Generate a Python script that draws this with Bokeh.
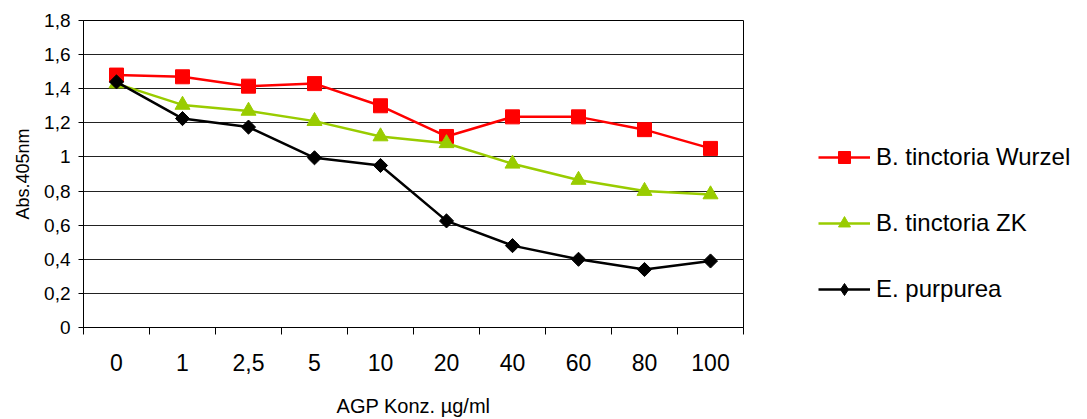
import math
from bokeh.plotting import figure
from bokeh.layouts import row
from bokeh.models import FixedTicker, CustomJSTickFormatter, Legend, LegendItem, ColumnDataSource, Range1d
from bokeh.embed import file_html
from bokeh.resources import INLINE

categories = ["0", "1", "2,5", "5", "10", "20", "40", "60", "80", "100"]
wurzel = [1.48, 1.47, 1.415, 1.43, 1.30, 1.12, 1.235, 1.235, 1.16, 1.05]
zk = [1.43, 1.305, 1.27, 1.21, 1.12, 1.08, 0.96, 0.865, 0.80, 0.78]
purpurea = [1.44, 1.225, 1.175, 0.995, 0.95, 0.625, 0.48, 0.40, 0.34, 0.39]
series_names = ["B. tinctoria Wurzel", "B. tinctoria ZK", "E. purpurea"]
y_ticks = [0, 0.2, 0.4, 0.6, 0.8, 1.0, 1.2, 1.4, 1.6, 1.8]

FONT = "Liberation Sans"
H = 419
n = len(categories)
xs = [i + 0.5 for i in range(n)]

styles = [
    dict(col="w", color="#FF0000", marker="square", size=14, angle=0, lmarker="square", lsize=14),
    dict(col="z", color="#99CC00", marker="triangle", size=15, angle=0, lmarker="triangle", lsize=15),
    dict(col="e", color="black", marker="square", size=10, angle=math.pi / 4, lmarker="diamond", lsize=15),
]

src = ColumnDataSource(dict(x=xs, w=wurzel, z=zk, e=purpurea))

p = figure(width=745, height=H, output_backend="svg", toolbar_location=None,
           x_range=Range1d(0, n), y_range=Range1d(0, 1.8),
           min_border_left=83, min_border_right=2, min_border_top=20, min_border_bottom=90)
p.background_fill_color = "white"
p.outline_line_color = "black"
p.outline_line_width = 1

for s in styles:
    p.line("x", s["col"], source=src, line_color=s["color"], line_width=2.5)
    p.scatter("x", s["col"], source=src, marker=s["marker"], size=s["size"], angle=s["angle"],
              fill_color=s["color"], line_color=s["color"])

# axes
p.xaxis.ticker = FixedTicker(ticks=xs, minor_ticks=list(range(n + 1)))
p.xaxis.major_label_overrides = {x: c for x, c in zip(xs, categories)}
p.xaxis.major_tick_line_color = None
p.xaxis.minor_tick_line_color = "black"
p.xaxis.minor_tick_out = 7
p.xaxis.minor_tick_in = 0
p.xaxis.axis_line_color = "black"
p.xaxis.major_label_text_font = FONT
p.xaxis.major_label_text_font_size = "23px"
p.xaxis.major_label_text_color = "black"
p.xaxis.major_label_standoff = 19
p.xaxis.axis_label = "AGP Konz. µg/ml"
p.xaxis.axis_label_text_font = FONT
p.xaxis.axis_label_text_font_size = "20px"
p.xaxis.axis_label_text_font_style = "normal"
p.xaxis.axis_label_text_color = "black"
p.xaxis.axis_label_standoff = 21

p.yaxis.ticker = FixedTicker(ticks=y_ticks, minor_ticks=[])
p.yaxis.formatter = CustomJSTickFormatter(code="return tick.toFixed(1).replace('.', ',').replace(/,0$/, '');")
p.yaxis.major_tick_out = 5
p.yaxis.major_tick_in = 0
p.yaxis.major_tick_line_color = "black"
p.yaxis.axis_line_color = "black"
p.yaxis.major_label_text_font = FONT
p.yaxis.major_label_text_font_size = "19px"
p.yaxis.major_label_text_color = "black"
p.yaxis.major_label_standoff = 8
p.yaxis.axis_label = "Abs.405nm"
p.yaxis.axis_label_text_font = FONT
p.yaxis.axis_label_text_font_size = "18px"
p.yaxis.axis_label_text_font_style = "normal"
p.yaxis.axis_label_text_color = "black"
p.yaxis.axis_label_standoff = 8

p.xgrid.grid_line_color = None
p.ygrid.ticker = FixedTicker(ticks=y_ticks)
p.ygrid.grid_line_color = "#222222"
p.ygrid.grid_line_width = 1

# legend panel (separate figure, glyph renderers out of view, only legend shown)
lf = figure(width=335, height=H, output_backend="svg", toolbar_location=None,
            x_range=Range1d(100, 101), y_range=Range1d(100, 101),
            min_border_left=0, min_border_right=0, min_border_top=0, min_border_bottom=0)
lf.axis.visible = False
lf.grid.visible = False
lf.outline_line_color = None
items = []
for name, s in zip(series_names, styles):
    rl = lf.line("x", s["col"], source=src, line_color=s["color"], line_width=2.5)
    rm = lf.scatter("x", s["col"], source=src, marker=s["lmarker"], size=s["lsize"],
                    fill_color=s["color"], line_color=s["color"])
    items.append(LegendItem(label=name, renderers=[rl, rm]))

legend = Legend(items=items, location=(73, 23))
legend.glyph_width = 52
legend.glyph_height = 30
legend.label_height = 30
legend.spacing = 36
legend.padding = 0
legend.margin = 0
legend.label_standoff = 6
legend.border_line_color = None
legend.background_fill_alpha = 0
legend.label_text_font = FONT
legend.label_text_font_size = "24px"
legend.label_text_color = "black"
lf.add_layout(legend, "center")

layout = row(p, lf, spacing=0)
open("out.html", "w").write(file_html(layout, INLINE))
